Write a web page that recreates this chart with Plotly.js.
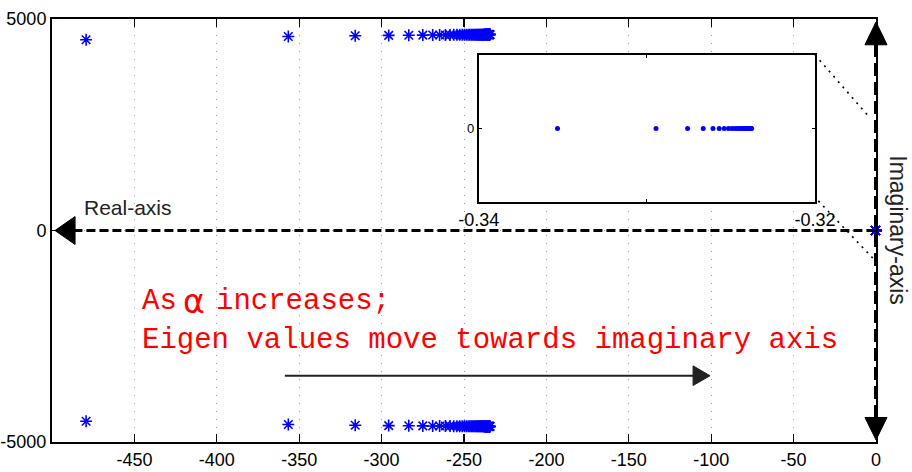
<!DOCTYPE html>
<html>
<head>
<meta charset="utf-8">
<script src="https://cdn.plot.ly/plotly-3.0.1.min.js"></script>
<style>html,body{margin:0;padding:0;background:#fff;}#chart{width:912px;height:472px;}</style>
</head>
<body>
<div id="chart"></div>
<script>
// Eigenvalues (upper half-plane); lower half-plane are the complex conjugates
const eigReal = [-479.3, -356.6, -316.0, -295.7, -283.5, -275.0, -269.0, -264.8, -261.3, -258.5,
  -256.2, -254.3, -252.6, -251.1, -249.8, -248.6, -247.5, -246.5, -245.6, -244.8,
  -244.0, -243.3, -242.6, -242.0, -241.4, -240.9, -240.4, -239.9, -239.5, -239.1,
  -238.7, -238.3, -238.0, -237.7, -237.4, -237.1, -236.8, -236.6, -236.3, -236.1,
  -235.9, -235.7, -235.5, -235.3, -235.1, -234.9, -234.8, -234.6, -234.5, -234.3, -234.2];
const eigImag = [4510, 4585, 4605, 4612, 4616, 4619, 4621, 4622, 4623, 4624,
  4625, 4625, 4626, 4626, 4627, 4627, 4627, 4628, 4628, 4628,
  4628, 4629, 4629, 4629, 4629, 4629, 4630, 4630, 4630, 4630,
  4630, 4630, 4630, 4631, 4631, 4631, 4631, 4631, 4631, 4631,
  4631, 4631, 4632, 4632, 4632, 4632, 4632, 4632, 4632, 4632, 4632];
// Real eigenvalues near the origin (shown in the zoomed inset)
const realEig = [-0.33532, -0.32946, -0.32758, -0.32665, -0.32607, -0.32570, -0.32540, -0.32515,
  -0.32495, -0.32478, -0.32463, -0.32450, -0.32438, -0.32427, -0.32418, -0.32410,
  -0.32403, -0.32397, -0.32392, -0.32387, -0.32383, -0.32380, -0.32377];
const realEigImag = realEig.map(() => 0);

const xTicks = [-450, -400, -350, -300, -250, -200, -150, -100, -50, 0];
const xTickText = ['-450', '-400', '-350', '-300', '-250', '-200', '-150', '-100', '-50', '0'];
const yTicks = [-5000, 0, 5000];
const yTickText = ['-5000', '0', '5000'];
const insetXTicks = [-0.34, -0.33, -0.32];
const insetXTickText = ['-0.34', '', '-0.32'];
const insetYTicks = [0];
const insetYTickText = ['0'];

const blue = '#0000ff';
const star = {symbol: 'asterisk-open', size: 10, color: blue, line: {color: blue, width: 1.6}};

const traces = [
  {x: eigReal, y: eigImag, type: 'scatter', mode: 'markers', marker: star, cliponaxis: false, xaxis: 'x', yaxis: 'y'},
  {x: eigReal, y: eigImag.map(v => -v), type: 'scatter', mode: 'markers', marker: star, cliponaxis: false, xaxis: 'x', yaxis: 'y'},
  {x: realEig, y: realEigImag, type: 'scatter', mode: 'markers', marker: star, cliponaxis: false, xaxis: 'x', yaxis: 'y'},
  {x: realEig, y: realEigImag, type: 'scatter', mode: 'markers',
   marker: {symbol: 'circle', size: 5, color: blue}, cliponaxis: false, xaxis: 'x2', yaxis: 'y2'}
];

const tickFont = {family: '"Liberation Sans Narrow", "Arial Narrow", "Liberation Sans", Arial, sans-serif', size: 18, color: '#000'};
const gridStyle = {showgrid: true, gridcolor: '#9a9a9a', gridwidth: 1, griddash: '1px,7px'};
const redFont = {family: '"Courier New", "Liberation Mono", monospace', size: 29, color: '#ff0000'};

const layout = {
  width: 912, height: 472,
  margin: {l: 52, r: 36, t: 19, b: 30},
  paper_bgcolor: '#ffffff',
  plot_bgcolor: '#ffffff',
  showlegend: false,
  xaxis: Object.assign({
    range: [-500, 0], tickvals: xTicks, ticktext: xTickText, tickfont: tickFont,
    ticks: 'inside', ticklen: 8, tickwidth: 1.2, tickcolor: '#000',
    showline: true, linecolor: '#000', linewidth: 2, mirror: 'ticks', zeroline: false
  }, gridStyle),
  yaxis: Object.assign({
    range: [-5000, 5000], tickvals: yTicks, ticktext: yTickText, tickfont: tickFont,
    ticks: 'inside', ticklen: 8, tickwidth: 1.2, tickcolor: '#000',
    showline: true, linecolor: '#000', linewidth: 2, mirror: 'ticks', zeroline: false
  }, gridStyle),
  xaxis2: {
    domain: [0.518, 0.926], anchor: 'y2', range: [-0.34, -0.32],
    tickvals: insetXTicks, ticktext: insetXTickText,
    tickfont: {family: '"Liberation Sans", Arial, sans-serif', size: 18, color: '#000'},
    ticks: 'inside', ticklen: 3, tickcolor: '#000',
    showline: true, linecolor: '#000', linewidth: 2, mirror: 'ticks', showgrid: false, zeroline: false
  },
  yaxis2: {
    domain: [0.567, 0.915], anchor: 'x2', range: [-1, 1],
    tickvals: insetYTicks, ticktext: insetYTickText,
    tickfont: {family: '"Liberation Sans", Arial, sans-serif', size: 13, color: '#000'},
    ticks: 'inside', ticklen: 3, tickcolor: '#000',
    showline: true, linecolor: '#000', linewidth: 2, mirror: 'ticks', showgrid: false, zeroline: false
  },
  shapes: [
    // dashed real axis
    {type: 'line', xref: 'x', yref: 'y', x0: -487, x1: 0, y0: 0, y1: 0, line: {color: '#000', width: 3, dash: '9px,4px'}},
    {type: 'path', xref: 'x', yref: 'y', path: 'M -498.2 0 L -486 330 L -486 -330 Z', fillcolor: '#000', line: {color: '#000', width: 1}},
    // dashed imaginary axis with arrowheads
    {type: 'line', xref: 'paper', yref: 'y', x0: 1, x1: 1, y0: -4430, y1: 4390, line: {color: '#000', width: 4, dash: '13px,6px'}},
    {type: 'path', xref: 'paper', yref: 'y', path: 'M 1 4930 L 0.9866 4390 L 1.0134 4390 Z', fillcolor: '#000', line: {color: '#000', width: 1}},
    {type: 'path', xref: 'paper', yref: 'y', path: 'M 1 -4950 L 0.9866 -4420 L 1.0134 -4420 Z', fillcolor: '#000', line: {color: '#000', width: 1}},
    // direction arrow
    {type: 'line', xref: 'x', yref: 'y', x0: -358.7, x1: -110, y0: -3433, y1: -3433, line: {color: '#222', width: 2}},
    {type: 'path', xref: 'x', yref: 'y', path: 'M -100.7 -3433 L -111 -3200 L -111 -3666 Z', fillcolor: '#222', line: {color: '#222', width: 1}},
    // zoom connector lines
    {type: 'line', xref: 'x', yref: 'y', x0: -37, x1: -3.6, y0: 4149, y1: 2660, line: {color: '#000', width: 1.6, dash: '2px,5px'}},
    {type: 'line', xref: 'x', yref: 'y', x0: -35, x1: -2, y0: 700, y1: -650, line: {color: '#000', width: 1.6, dash: '2px,5px'}}
  ],
  annotations: [
    {text: 'Real-axis', xref: 'x', yref: 'y', x: -453.9, y: 555, showarrow: false,
     font: {family: '"Liberation Sans", Arial, sans-serif', size: 21, color: '#222'}},
    {text: 'Imaginary-axis', xref: 'paper', yref: 'y', x: 1.027, xshift: 15, y: 0, showarrow: false, textangle: 90,
     font: {family: '"Liberation Sans", Arial, sans-serif', size: 23, color: '#222'}},
    {text: 'As', xref: 'x', yref: 'y', x: -446.6, y: -1690, xanchor: 'left', showarrow: false, font: redFont},
    {text: 'α', xref: 'x', yref: 'y', x: -421.5, y: -1690, xanchor: 'left', showarrow: false,
     font: {family: '"DejaVu Sans", "Liberation Sans", sans-serif', size: 33, color: '#ff0000'}},
    {text: 'increases;', xref: 'x', yref: 'y', x: -401.7, y: -1690, xanchor: 'left', showarrow: false, font: redFont},
    {text: 'Eigen values move towards imaginary axis',
     xref: 'x', yref: 'y', x: -446.6, y: -2600, xanchor: 'left', showarrow: false, font: redFont}
  ]
};

Plotly.newPlot('chart', traces, layout, {staticPlot: true, displayModeBar: false});
</script>
</body>
</html>
